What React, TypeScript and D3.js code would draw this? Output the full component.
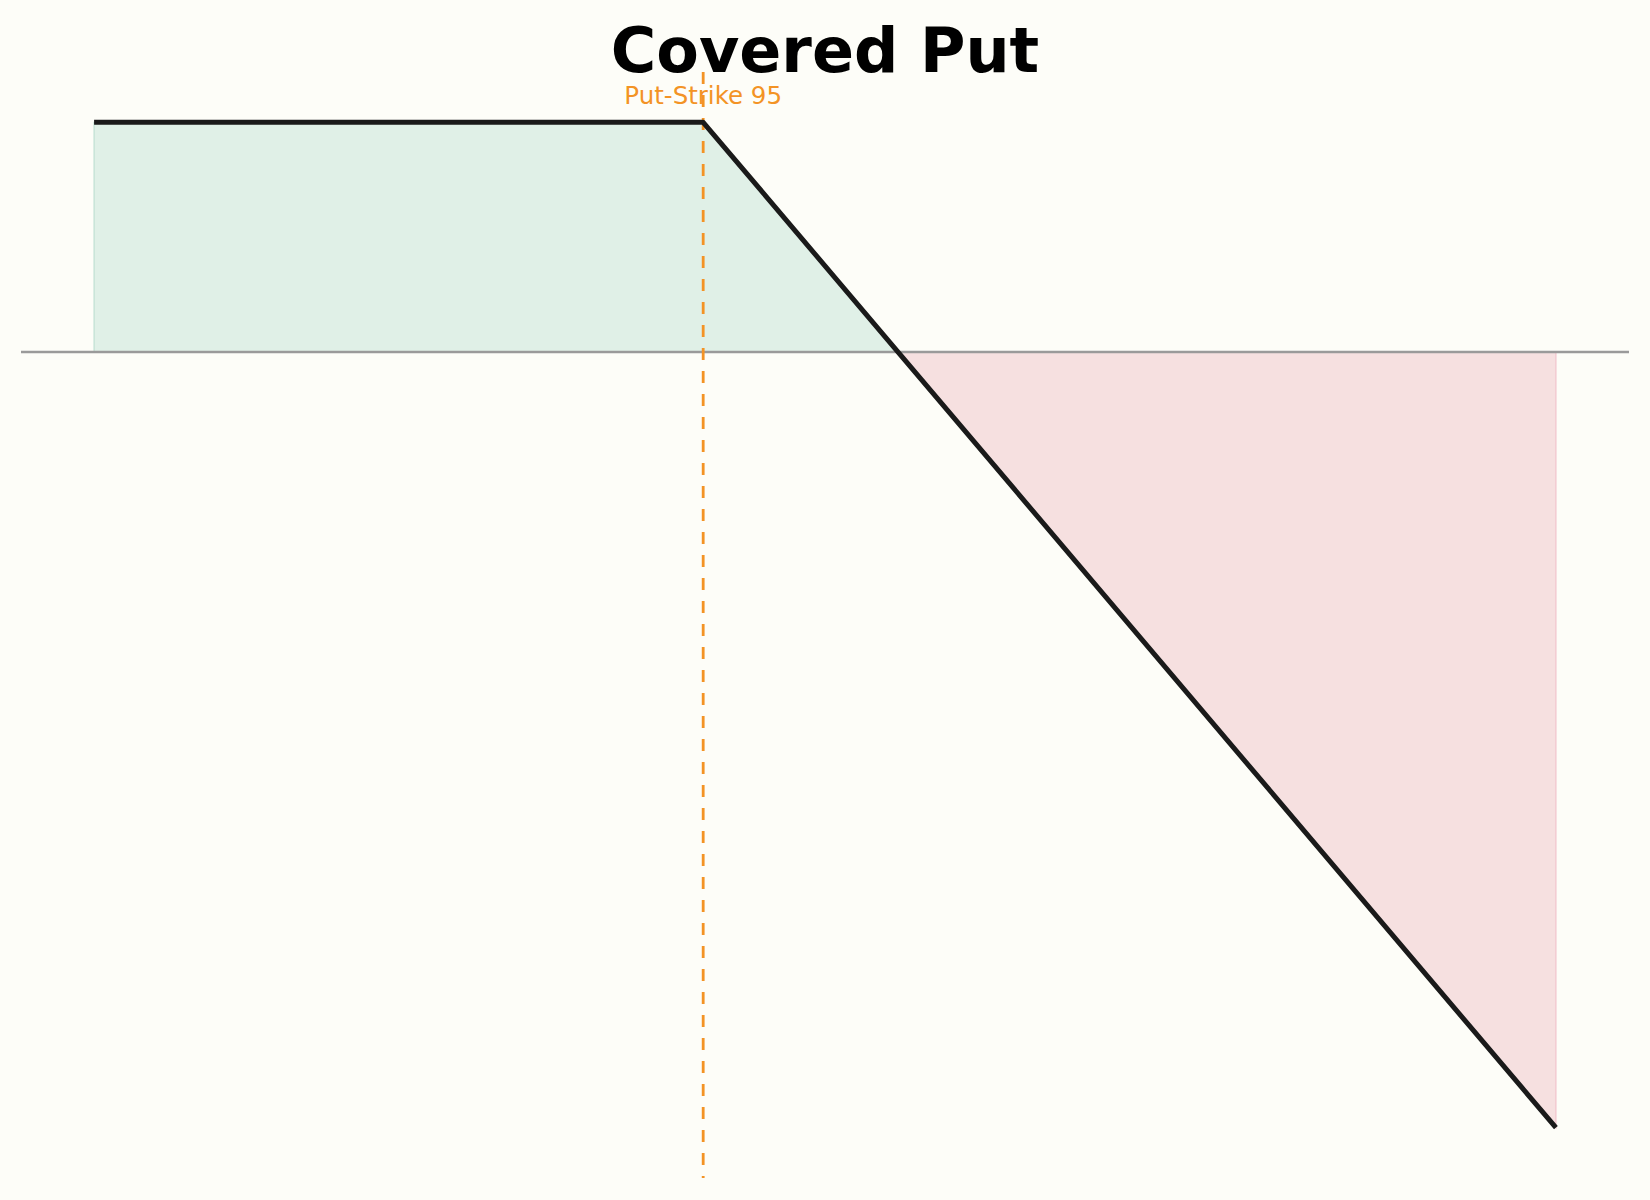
import React from 'react';
import * as d3 from 'd3';

// payoff of the covered put (short stock + short put)
const prices = [70, 95, 103, 130];
const pnl = [8, 8, 0, -27];
const strike = 95;
const strikeLabel = 'Put-Strike 95';
const title = 'Covered Put';

const width = 1650;
const height = 1200;

const colors = {
  bg: '#fdfdf8',
  line: '#1a1a1a',
  zero: '#9a9a9a',
  strike: '#f39325',
  profit: '#e0f0e7',
  profitEdge: '#bfe0d2',
  loss: '#f6e0e0',
  lossEdge: '#f2c3cb',
};

type Pt = { x: number; y: number };

export default function App() {
  const points: Pt[] = prices.map((p, i) => ({ x: p, y: pnl[i] }));

  // axis limits carry a 5% margin on both sides, matplotlib style
  const xMin = d3.min(prices)!;
  const xMax = d3.max(prices)!;
  const yMin = d3.min(pnl)!;
  const yMax = d3.max(pnl)!;
  const padX = (xMax - xMin) * 0.05;
  const padY = (yMax - yMin) * 0.05;

  const x = d3.scaleLinear().domain([xMin - padX, xMax + padX]).range([21, 1629]);
  const y = d3.scaleLinear().domain([yMin - padY, yMax + padY]).range([1178, 72]);

  const area = d3
    .area<Pt>()
    .x((d) => x(d.x))
    .y0(y(0))
    .y1((d) => y(d.y));

  const line = d3
    .line<Pt>()
    .x((d) => x(d.x))
    .y((d) => y(d.y));

  const profitPts = points.filter((d) => d.y >= 0);
  const lossPts = points.filter((d) => d.y <= 0);

  const [x0, x1] = x.range();
  const [yBottom, yTop] = y.range();

  return (
    <svg
      width={width}
      height={height}
      style={{ position: 'absolute', left: 0, top: 0, display: 'block', background: colors.bg }}
    >
      <rect width={width} height={height} fill={colors.bg} />

      <path d={area(profitPts)!} fill={colors.profit} stroke={colors.profitEdge} strokeWidth={1.2} />
      <path d={area(lossPts)!} fill={colors.loss} stroke={colors.lossEdge} strokeWidth={1.2} />

      <line x1={x0} x2={x1} y1={y(0)} y2={y(0)} stroke={colors.zero} strokeWidth={2.5} />

      <line
        x1={x(strike)}
        x2={x(strike)}
        y1={yTop}
        y2={yBottom}
        stroke={colors.strike}
        strokeWidth={2.8}
        strokeDasharray="12,11"
      />

      <path
        d={line(points)!}
        fill="none"
        stroke={colors.line}
        strokeWidth={5}
        strokeLinejoin="round"
      />

      <text
        x={x(strike)}
        y={104}
        textAnchor="middle"
        fontFamily="DejaVu Sans"
        fontSize={24.5}
        fill={colors.strike}
      >
        {strikeLabel}
      </text>

      <text
        x={width / 2}
        y={72}
        textAnchor="middle"
        fontFamily="DejaVu Sans"
        fontWeight="bold"
        fontSize={62}
        fill="#000"
      >
        {title}
      </text>
    </svg>
  );
}
